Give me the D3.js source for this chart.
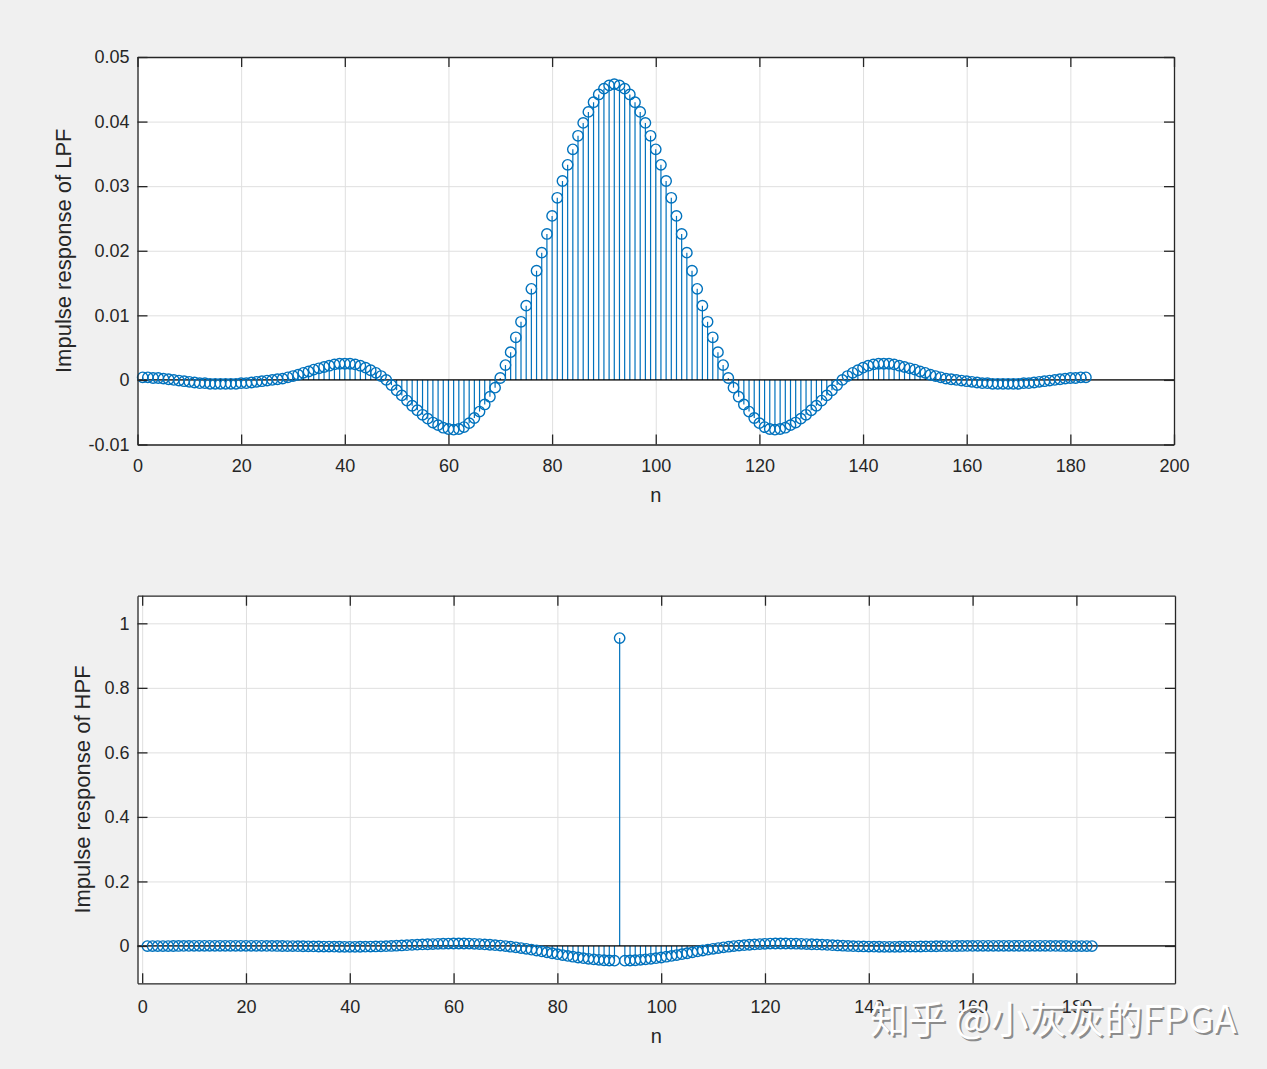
<!DOCTYPE html>
<html>
<head>
<meta charset="utf-8">
<script src="https://cdn.jsdelivr.net/npm/d3@7"></script>
<style>
  html, body { margin: 0; padding: 0; background: #f0f0f0; }
  svg { display: block; }
  text { font-family: "Liberation Sans", Arial, Helvetica, sans-serif; fill: #262626; }
</style>
</head>
<body>
<svg id="chart" width="1267" height="1069"></svg>
<script>
// ---------------- data ----------------
const sampleIndex = d3.range(1, 184); // n = 1 .. 183

const lpfValues = [
  0.0004, 0.0004, 0.0003, 0.0003, 0.0002, 0.0001, 0.0000, -0.0001, -0.0002, -0.0003,
  -0.0004, -0.0005, -0.0005, -0.0006, -0.0006, -0.0006, -0.0006, -0.0006, -0.0006, -0.0005,
  -0.0005, -0.0004, -0.0003, -0.0002, -0.0001, 0.0000, 0.0001, 0.0002, 0.0004, 0.0006,
  0.0008, 0.0011, 0.0013, 0.0016, 0.0018, 0.0020, 0.0022, 0.0024, 0.0025, 0.0025,
  0.0025, 0.0024, 0.0022, 0.0019, 0.0015, 0.0011, 0.0006, 0.0000, -0.0008, -0.0016,
  -0.0024, -0.0032, -0.0040, -0.0047, -0.0054, -0.0060, -0.0066, -0.0070, -0.0074, -0.0076,
  -0.0077, -0.0076, -0.0073, -0.0067, -0.0059, -0.0049, -0.0038, -0.0026, -0.0012, 0.0003,
  0.0023, 0.0043, 0.0066, 0.0090, 0.0115, 0.0141, 0.0169, 0.0197, 0.0226, 0.0254,
  0.0282, 0.0308, 0.0333, 0.0357, 0.0378, 0.0398, 0.0415, 0.0430, 0.0442, 0.0451,
  0.0456, 0.0458,
  0.0456, 0.0451, 0.0442, 0.0430, 0.0415, 0.0398, 0.0378, 0.0357,
  0.0333, 0.0308, 0.0282, 0.0254, 0.0226, 0.0197, 0.0169, 0.0141, 0.0115, 0.0090,
  0.0066, 0.0043, 0.0023, 0.0003, -0.0012, -0.0026, -0.0038, -0.0049, -0.0059, -0.0067,
  -0.0073, -0.0076, -0.0077, -0.0076, -0.0074, -0.0070, -0.0066, -0.0060, -0.0054, -0.0047,
  -0.0040, -0.0032, -0.0024, -0.0016, -0.0008, 0.0000, 0.0006, 0.0011, 0.0015, 0.0019,
  0.0022, 0.0024, 0.0025, 0.0025, 0.0025, 0.0024, 0.0022, 0.0020, 0.0018, 0.0016,
  0.0013, 0.0011, 0.0008, 0.0006, 0.0004, 0.0002, 0.0001, 0.0000, -0.0001, -0.0002,
  -0.0003, -0.0004, -0.0005, -0.0005, -0.0006, -0.0006, -0.0006, -0.0006, -0.0006, -0.0006,
  -0.0005, -0.0005, -0.0004, -0.0003, -0.0002, -0.0001, 0.0000, 0.0001, 0.0002, 0.0003,
  0.0003, 0.0004, 0.0004
];

const hpfValues = [
  -0.0004, -0.0004, -0.0003, -0.0003, -0.0002, -0.0001, 0.0000, 0.0001, 0.0002, 0.0003,
  0.0004, 0.0005, 0.0005, 0.0006, 0.0006, 0.0006, 0.0006, 0.0006, 0.0006, 0.0005,
  0.0005, 0.0004, 0.0003, 0.0002, 0.0001, 0.0000, -0.0001, -0.0002, -0.0004, -0.0006,
  -0.0008, -0.0011, -0.0013, -0.0016, -0.0018, -0.0020, -0.0022, -0.0024, -0.0025, -0.0025,
  -0.0025, -0.0024, -0.0022, -0.0019, -0.0015, -0.0011, -0.0006, 0.0000, 0.0008, 0.0016,
  0.0024, 0.0032, 0.0040, 0.0047, 0.0054, 0.0060, 0.0066, 0.0070, 0.0074, 0.0076,
  0.0077, 0.0076, 0.0073, 0.0067, 0.0059, 0.0049, 0.0038, 0.0026, 0.0012, -0.0003,
  -0.0023, -0.0043, -0.0066, -0.0090, -0.0115, -0.0141, -0.0169, -0.0197, -0.0226, -0.0254,
  -0.0282, -0.0308, -0.0333, -0.0357, -0.0378, -0.0398, -0.0415, -0.0430, -0.0442, -0.0451,
  -0.0456, 0.9542,
  -0.0456, -0.0451, -0.0442, -0.0430, -0.0415, -0.0398, -0.0378, -0.0357,
  -0.0333, -0.0308, -0.0282, -0.0254, -0.0226, -0.0197, -0.0169, -0.0141, -0.0115, -0.0090,
  -0.0066, -0.0043, -0.0023, -0.0003, 0.0012, 0.0026, 0.0038, 0.0049, 0.0059, 0.0067,
  0.0073, 0.0076, 0.0077, 0.0076, 0.0074, 0.0070, 0.0066, 0.0060, 0.0054, 0.0047,
  0.0040, 0.0032, 0.0024, 0.0016, 0.0008, 0.0000, -0.0006, -0.0011, -0.0015, -0.0019,
  -0.0022, -0.0024, -0.0025, -0.0025, -0.0025, -0.0024, -0.0022, -0.0020, -0.0018, -0.0016,
  -0.0013, -0.0011, -0.0008, -0.0006, -0.0004, -0.0002, -0.0001, 0.0000, 0.0001, 0.0002,
  0.0003, 0.0004, 0.0005, 0.0005, 0.0006, 0.0006, 0.0006, 0.0006, 0.0006, 0.0006,
  0.0005, 0.0005, 0.0004, 0.0003, 0.0002, 0.0001, 0.0000, -0.0001, -0.0002, -0.0003,
  -0.0003, -0.0004, -0.0004
];

const lpfXTicks = [0, 20, 40, 60, 80, 100, 120, 140, 160, 180, 200];
const lpfYTicks = [-0.01, 0, 0.01, 0.02, 0.03, 0.04, 0.05];
const lpfYTickLabels = ["-0.01", "0", "0.01", "0.02", "0.03", "0.04", "0.05"];
const hpfXTicks = [0, 20, 40, 60, 80, 100, 120, 140, 160, 180];
const hpfYTicks = [0, 0.2, 0.4, 0.6, 0.8, 1];
const hpfYTickLabels = ["0", "0.2", "0.4", "0.6", "0.8", "1"];

const yLabels = ["Impulse response of LPF", "Impulse response of HPF"];
const xLabel = "n";
const watermark = "知乎 @小灰灰的FPGA";

// ---------------- drawing ----------------
const svg = d3.select("#chart");
svg.append("rect").attr("width", 1267).attr("height", 1069).attr("fill", "#f0f0f0");

const stemColor = "#0072BD";
const axisColor = "#262626";
const gridColor = "#dfdfdf";
const tickLen = 10;

function drawPanel(cfg) {
  const x = d3.scaleLinear().domain(cfg.xDomain).range([cfg.left, cfg.right]);
  const y = d3.scaleLinear().domain(cfg.yDomain).range([cfg.bottom, cfg.top]);
  const g = svg.append("g");

  g.append("rect")
    .attr("x", cfg.left).attr("y", cfg.top)
    .attr("width", cfg.right - cfg.left).attr("height", cfg.bottom - cfg.top)
    .attr("fill", "#ffffff");

  // grid
  g.append("g")
    .attr("transform", `translate(0,${cfg.bottom})`)
    .call(d3.axisBottom(x).tickValues(cfg.xTicks).tickSize(-(cfg.bottom - cfg.top)).tickFormat(""))
    .call(a => a.select(".domain").remove())
    .call(a => a.selectAll("line").attr("stroke", gridColor).attr("stroke-width", 1));
  g.append("g")
    .attr("transform", `translate(${cfg.left},0)`)
    .call(d3.axisLeft(y).tickValues(cfg.yTicks).tickSize(-(cfg.right - cfg.left)).tickFormat(""))
    .call(a => a.select(".domain").remove())
    .call(a => a.selectAll("line").attr("stroke", gridColor).attr("stroke-width", 1));

  const pts = cfg.n.map((n, i) => ({ n, v: cfg.values[i] }));

  // stems
  g.append("g").selectAll("line").data(pts).join("line")
    .attr("x1", d => x(d.n)).attr("x2", d => x(d.n))
    .attr("y1", y(0)).attr("y2", d => y(d.v))
    .attr("stroke", stemColor).attr("stroke-width", 1.2);

  // baseline
  g.append("line")
    .attr("x1", cfg.left).attr("x2", cfg.right)
    .attr("y1", y(0)).attr("y2", y(0))
    .attr("stroke", "#000").attr("stroke-width", 1.2);

  // markers
  g.append("g").selectAll("circle").data(pts).join("circle")
    .attr("cx", d => x(d.n)).attr("cy", d => y(d.v)).attr("r", 5.2)
    .attr("fill", "none").attr("stroke", stemColor).attr("stroke-width", 1.4);

  // axes: bottom/left with labels, top/right mirrored ticks
  const bottomAxis = g.append("g")
    .attr("transform", `translate(0,${cfg.bottom})`)
    .call(d3.axisBottom(x).tickValues(cfg.xTicks).tickSizeInner(-tickLen).tickSizeOuter(0).tickPadding(cfg.xPad).tickFormat(d3.format("d")));
  const leftAxis = g.append("g")
    .attr("transform", `translate(${cfg.left},0)`)
    .call(d3.axisLeft(y).tickValues(cfg.yTicks).tickSizeInner(-tickLen).tickSizeOuter(0).tickPadding(8)
      .tickFormat((d, i) => cfg.yTickLabels[i]));
  const topAxis = g.append("g")
    .attr("transform", `translate(0,${cfg.top})`)
    .call(d3.axisTop(x).tickValues(cfg.xTicks).tickSizeInner(-tickLen).tickSizeOuter(0).tickFormat(""));
  const rightAxis = g.append("g")
    .attr("transform", `translate(${cfg.right},0)`)
    .call(d3.axisRight(y).tickValues(cfg.yTicks).tickSizeInner(-tickLen).tickSizeOuter(0).tickFormat(""));

  [bottomAxis, leftAxis, topAxis, rightAxis].forEach(a => {
    a.select(".domain").attr("stroke", axisColor).attr("stroke-width", 1.3);
    a.selectAll(".tick line").attr("stroke", axisColor).attr("stroke-width", 1.3);
    a.selectAll(".tick text")
      .attr("fill", axisColor)
      .style("font-family", '"Liberation Sans", Arial, sans-serif')
      .style("font-size", "18px");
  });

  // labels
  g.append("text")
    .attr("x", (cfg.left + cfg.right) / 2).attr("y", cfg.xLabelY)
    .attr("text-anchor", "middle")
    .style("font-size", "20px")
    .text(xLabel);
  g.append("text")
    .attr("transform", `translate(${cfg.yLabelX},${(cfg.top + cfg.bottom) / 2}) rotate(-90)`)
    .attr("text-anchor", "middle")
    .style("font-size", "22px")
    .text(cfg.yLabel);
}

drawPanel({
  left: 137.5, right: 1174, top: 57, bottom: 444.5,
  xDomain: [0, 200], yDomain: [-0.01, 0.05],
  xTicks: lpfXTicks, yTicks: lpfYTicks, yTickLabels: lpfYTickLabels,
  n: sampleIndex, values: lpfValues, xPad: 15,
  yLabel: yLabels[0], yLabelX: 71, xLabelY: 502
});

drawPanel({
  left: 137.5, right: 1175, top: 595.7, bottom: 983.3,
  xDomain: [-0.9, 199], yDomain: [-0.1157, 1.0856],
  xTicks: hpfXTicks, yTicks: hpfYTicks, yTickLabels: hpfYTickLabels,
  n: sampleIndex, values: hpfValues, xPad: 17,
  yLabel: yLabels[1], yLabelX: 90, xLabelY: 1043
});

// watermark
const wm = svg.append("g");
wm.append("text")
  .attr("x", 872).attr("y", 1035)
  .style("font-family", '"Noto Sans CJK SC", sans-serif')
  .style("font-size", "38px")
  .style("fill", "#8c8c8c")
  .text(watermark);
wm.append("text")
  .attr("x", 870).attr("y", 1033)
  .style("font-family", '"Noto Sans CJK SC", sans-serif')
  .style("font-size", "38px")
  .style("fill", "#ffffff")
  .text(watermark);
</script>
</body>
</html>
